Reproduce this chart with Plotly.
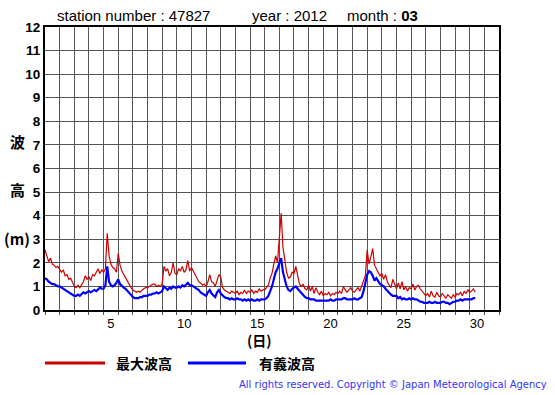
import plotly.graph_objects as go

# elapsed days since 1 March 00:00, 3-hourly samples
step_days = 0.125

max_wave = [
    2.55, 2.3, 2.05, 2.2, 1.95, 1.9, 1.8, 1.85,
    1.75, 1.6, 1.7, 1.45, 1.5, 1.3, 1.35, 1.15,
    1.0, 0.95, 1.05, 0.95, 1.1, 1.2, 1.45, 1.3,
    1.4, 1.25, 1.5, 1.45, 1.6, 1.75, 1.55, 1.7,
    1.6, 1.75, 3.25, 2.3, 1.95, 1.8, 1.75, 1.6,
    2.4, 1.9, 1.65, 1.5, 1.35, 1.2, 1.05, 0.95,
    0.85, 0.8, 0.75, 0.8, 0.75, 0.85, 0.9, 0.95,
    0.95, 1.0, 1.05, 1.1, 1.1, 1.0, 1.05, 1.0,
    1.1, 1.85, 1.65, 1.75, 1.45, 1.6, 2.0, 1.55,
    1.5, 1.75, 1.65, 1.85, 1.6, 1.7, 2.1, 1.65,
    1.8, 1.65, 1.5, 1.35, 1.2, 1.15, 1.05, 1.1,
    1.0, 1.2, 1.5, 1.2, 1.15, 1.0, 1.25, 1.5,
    1.4, 0.95, 0.85, 0.8, 0.75, 0.7, 0.8, 0.75,
    0.7, 0.8, 0.65, 0.75, 0.7, 0.85, 0.7, 0.8,
    0.75, 0.85, 0.7, 0.8, 0.75, 0.9, 0.8, 0.85,
    0.85, 0.95, 1.05, 1.35, 1.55, 1.95, 2.3, 2.0,
    2.9, 4.1, 2.65, 2.0, 1.6, 1.35, 1.4, 1.6,
    1.55, 1.85, 1.4, 1.1, 1.0, 1.1, 0.9, 0.85,
    1.05, 0.8, 1.0, 0.7, 0.95, 0.75, 0.65, 0.8,
    0.6, 0.7, 0.65, 0.75, 0.6, 0.7, 0.65, 0.75,
    0.7, 0.8, 0.7, 1.0, 0.85, 0.75, 0.85, 0.95,
    0.8, 0.75, 0.85, 0.95, 0.8, 1.0, 1.2, 1.45,
    2.55, 1.95, 2.25, 2.6, 1.9, 1.75, 1.6, 1.45,
    1.55, 1.3, 1.5, 1.2, 1.05, 0.95, 1.3, 1.1,
    0.9, 1.15, 0.9, 1.2, 0.85, 1.0, 0.8, 0.95,
    0.9, 1.1, 0.85, 1.0, 1.05, 0.9, 0.8, 0.65,
    0.6, 0.7, 0.55, 0.8, 0.6, 0.55, 0.75, 0.6,
    0.55, 0.7, 0.6, 0.5, 0.65, 0.55, 0.5, 0.65,
    0.55, 0.7, 0.65, 0.75, 0.6, 0.8, 0.7, 0.85,
    0.75, 0.8, 0.9, 0.75,
]

sig_wave = [
    1.35, 1.3, 1.2, 1.15, 1.1, 1.1, 1.05, 1.0,
    1.0, 0.95, 0.9, 0.85, 0.8, 0.75, 0.7, 0.65,
    0.6, 0.6, 0.65, 0.6, 0.7, 0.75, 0.7, 0.75,
    0.8, 0.75, 0.8, 0.85, 0.8, 0.9, 0.95, 0.9,
    0.9, 1.05, 1.85, 1.2, 1.05, 1.0, 1.05, 1.15,
    1.3, 1.1, 1.0, 0.95, 0.9, 0.8, 0.7, 0.6,
    0.55, 0.5, 0.5, 0.5, 0.55, 0.55, 0.6, 0.6,
    0.6, 0.65, 0.65, 0.7, 0.7, 0.75, 0.7, 0.75,
    0.8, 1.0, 0.9, 0.85, 0.95, 0.9, 1.0, 0.95,
    0.95, 1.0, 0.95, 1.05, 1.0, 1.1, 1.15, 1.05,
    1.05, 1.0, 0.95, 0.9, 0.85, 0.75, 0.7, 0.65,
    0.6, 0.75, 0.85, 0.7, 0.6, 0.55, 0.75, 0.85,
    0.7, 0.6, 0.55, 0.5, 0.5, 0.45, 0.5, 0.45,
    0.45, 0.5, 0.45, 0.45, 0.4, 0.45, 0.4, 0.45,
    0.4, 0.45, 0.4, 0.4, 0.45, 0.4, 0.45, 0.45,
    0.45, 0.5, 0.6, 0.8, 1.0, 1.3, 1.6, 1.75,
    1.95, 2.2, 1.6, 1.25, 1.0, 0.85, 0.8, 0.9,
    0.95, 1.0, 0.9, 0.8, 0.7, 0.6, 0.55, 0.5,
    0.5, 0.45, 0.45, 0.45, 0.4, 0.4, 0.4, 0.4,
    0.4, 0.4, 0.4, 0.4, 0.45, 0.4, 0.4, 0.45,
    0.45, 0.45, 0.45, 0.5, 0.5, 0.45, 0.45, 0.45,
    0.45, 0.5, 0.45, 0.45, 0.5, 0.55, 0.8, 1.2,
    1.5, 1.65, 1.6, 1.45, 1.25, 1.35, 1.2, 1.1,
    1.05, 1.0, 0.9, 0.8, 0.7, 0.65, 0.6, 0.6,
    0.6, 0.5, 0.55, 0.45, 0.5, 0.45, 0.45, 0.5,
    0.45, 0.5, 0.45, 0.45, 0.4, 0.35, 0.35, 0.3,
    0.3, 0.3, 0.35, 0.3, 0.3, 0.35, 0.3, 0.3,
    0.3, 0.35, 0.35, 0.3, 0.3, 0.25, 0.3, 0.35,
    0.35, 0.4, 0.4, 0.45, 0.4, 0.45, 0.45, 0.45,
    0.45, 0.45, 0.5, 0.5,
]

day_labels = ["5", "10", "15", "20", "25", "30"]
day_label_pos = [4.5, 9.5, 14.5, 19.5, 24.5, 29.5]
y_ticks = list(range(0, 13))

times = [i * step_days for i in range(len(max_wave))]

W, H = 555, 395
L, R, T, B = 45, 499, 27, 310


def px(xp):
    return (xp - L) / (R - L)


def py(yp):
    return (B - yp) / (B - T)


fig = go.Figure()
fig.add_trace(go.Scatter(x=times, y=max_wave, mode="lines",
                         line=dict(color="#cc0000", width=1.2),
                         name="最大波高", showlegend=False))
fig.add_trace(go.Scatter(x=times, y=sig_wave, mode="lines",
                         line=dict(color="#0000ff", width=2.2),
                         name="有義波高", showlegend=False))

fig.update_layout(
    width=W, height=H,
    margin=dict(l=L, r=W - R, t=T, b=H - B, pad=0),
    paper_bgcolor="white", plot_bgcolor="white",
    font=dict(family="Liberation Sans, Arial, sans-serif", color="black"),
    xaxis=dict(
        range=[0, 31], tickvals=day_label_pos, ticktext=day_labels,
        showgrid=False, ticks="", zeroline=False,
        tickfont=dict(size=13, family="Liberation Sans, Arial"),
        showline=True, linecolor="black", linewidth=2, mirror=True,
        minor=dict(dtick=1, tick0=0, showgrid=True, gridcolor="#555555",
                   gridwidth=1, ticks="outside", ticklen=3, tickcolor="#555555"),
    ),
    yaxis=dict(
        range=[0, 12], tickvals=y_ticks, ticktext=[f"<b>{v}</b>" for v in y_ticks],
        showgrid=True, gridcolor="#555555", gridwidth=1, zeroline=False,
        ticks="", tickfont=dict(size=13.5, family="Liberation Sans, Arial"),
        showline=True, linecolor="black", linewidth=2, mirror=True,
    ),
)

ann = []
top_y = py(16)
ann.append(dict(text="station number : 47827", x=px(55), y=top_y, xanchor="left"))
ann.append(dict(text="year : 2012", x=px(250), y=top_y, xanchor="left"))
ann.append(dict(text="month : <b>03</b>", x=px(345), y=top_y, xanchor="left"))
for a in ann:
    a.update(xref="paper", yref="paper", yanchor="middle", showarrow=False,
             font=dict(size=15, family="Liberation Sans, Arial", color="black"))

side = [("波", 141), ("高", 189), ("(m)", 238)]
for txt, yy in side:
    ann.append(dict(text=f"<b>{txt}</b>", x=px(17), y=py(yy), xref="paper", yref="paper",
                    xanchor="center", yanchor="middle", showarrow=False,
                    font=dict(size=15, family="Noto Sans CJK JP", color="black")))

ann.append(dict(text="<b>(日)</b>", x=px(259), y=py(340), xref="paper", yref="paper",
                xanchor="center", yanchor="middle", showarrow=False,
                font=dict(size=14, family="Noto Sans CJK JP", color="black")))

ann.append(dict(text="<b>最大波高</b>", x=px(114), y=py(363), xref="paper", yref="paper",
                xanchor="left", yanchor="middle", showarrow=False,
                font=dict(size=14, family="Noto Sans CJK JP", color="black")))
ann.append(dict(text="<b>有義波高</b>", x=px(257), y=py(363), xref="paper", yref="paper",
                xanchor="left", yanchor="middle", showarrow=False,
                font=dict(size=14, family="Noto Sans CJK JP", color="black")))
ann.append(dict(text="All rights reserved. Copyright © Japan Meteorological Agency",
                x=px(549), y=py(384), xref="paper", yref="paper",
                xanchor="right", yanchor="middle", showarrow=False,
                font=dict(size=10, family="DejaVu Sans", color="#3333ff")))

fig.update_layout(annotations=ann)

fig.add_shape(type="line", xref="paper", yref="paper",
              x0=px(45), x1=px(105), y0=py(363), y1=py(363),
              line=dict(color="#cc0000", width=3))
fig.add_shape(type="line", xref="paper", yref="paper",
              x0=px(188), x1=px(246), y0=py(363), y1=py(363),
              line=dict(color="#0000ff", width=3))

fig.write_html("out.html", config={"displayModeBar": False},
               post_script="document.body.style.margin='0px';document.body.style.overflow='hidden';")
